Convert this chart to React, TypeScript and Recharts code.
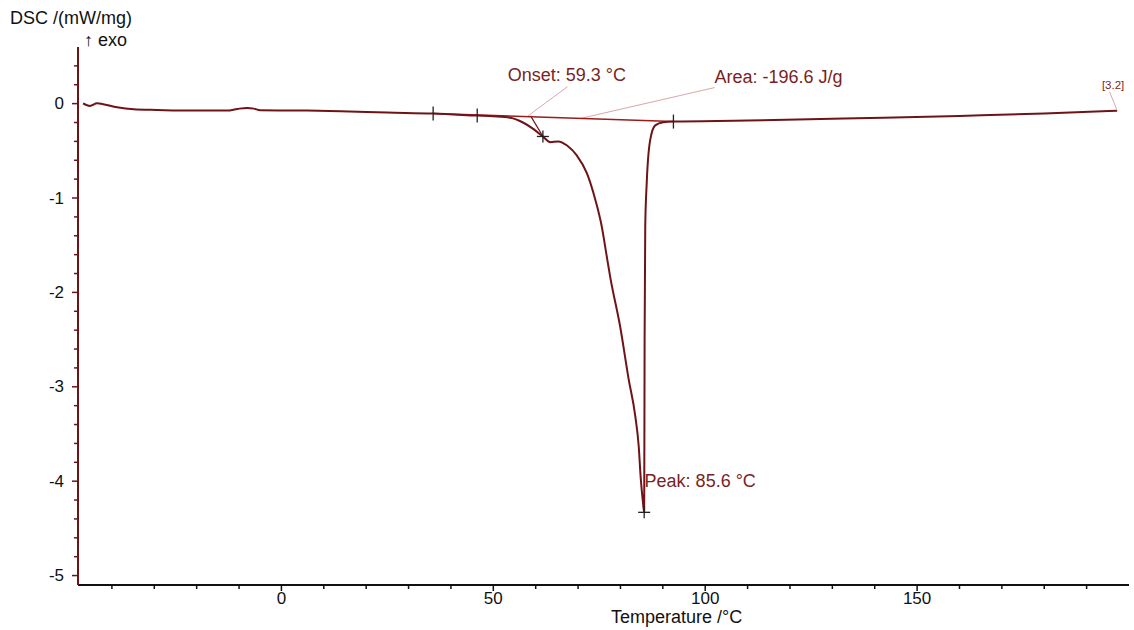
import { ComposedChart, Line, Scatter, XAxis, YAxis, ReferenceLine } from "recharts"

// DSC trace
const temps = [
  -46.8, -45.2, -43.5, -42.3, -38.8, -34.9, -29.3, -21.5, -12.8, -10.4, -8.1, -6.5, -5, 6.1, 13.9, 25,
  35.8, 46.2, 50, 54, 57, 59.5, 61.7, 63.4, 65.3, 67.4, 69.7, 72.1, 74.1, 75.6, 76.7, 77.6, 80.0, 81.9,
  83.5, 84.3, 84.8, 85.3, 85.6, 85.7, 85.85, 86.2, 87.0, 88.2, 90.1, 92.5, 110, 130, 142, 160, 180, 197.2,
]
const dsc = [
  0.003, -0.024, 0.003, -0.003, -0.039, -0.06, -0.067, -0.074, -0.074, -0.056, -0.045, -0.053, -0.07, -0.074,
  -0.08, -0.094, -0.105, -0.127, -0.135, -0.15, -0.2, -0.27, -0.348, -0.408, -0.4, -0.443, -0.549, -0.738,
  -1.023, -1.305, -1.6, -1.84, -2.38, -2.91, -3.31, -3.625, -3.977, -4.22, -4.33, -2.5, -1.3, -0.84,
  -0.39, -0.23, -0.197, -0.19, -0.18, -0.16, -0.15, -0.13, -0.105, -0.075,
]

// integration baseline
const baseT = [35.8, 92.5]
const baseV = [-0.105, -0.19]

// limit ticks on the baseline, crosses at onset/peak
const limitT = [35.8, 46.2, 92.5]
const limitV = [-0.105, -0.127, -0.19]
const crossT = [61.7, 85.6]
const crossV = [-0.348, -4.33]

const xTicks = [-40, -30, -20, -10, 0, 10, 20, 30, 40, 50, 60, 70, 80, 90, 100, 110, 120, 130, 140, 150, 160, 170, 180, 190]
const yTicks = [0.4, 0.2, 0, -0.2, -0.4, -0.6, -0.8, -1, -1.2, -1.4, -1.6, -1.8, -2, -2.2, -2.4, -2.6, -2.8, -3,
  -3.2, -3.4, -3.6, -3.8, -4, -4.2, -4.4, -4.6, -4.8, -5]

// annotation texts and their anchors (left edge, middle)
const noteText = ["Onset: 59.3 °C", "Area: -196.6 J/g", "Peak: 85.6 °C"]
const noteT = [53.4, 102.2, 85.7]
const noteV = [0.3, 0.28, -4.0]

const curve = temps.map((t, i) => ({ t, v: dsc[i] }))
const baseline = baseT.map((t, i) => ({ t, v: baseV[i] }))
const limits = limitT.map((t, i) => ({ t, v: limitV[i] }))
const crosses = crossT.map((t, i) => ({ t, v: crossV[i] }))
const notes = noteT.map((t, i) => ({ t, v: noteV[i], label: noteText[i] }))
const tag = [{ t: 193.6, v: 0.195, label: "[3.2]" }]

const FONT = "'Liberation Sans', Arial, sans-serif"
const RED = "#6e1418"
const TEXT_RED = "#7a1f22"
const LEADER = "#d9a7aa"

const XTick = (props: any) => {
  const { x, y, payload } = props
  const major = payload.value % 50 === 0
  return (
    <g>
      <line x1={x} y1={y} x2={x} y2={y + (major ? 6 : 4)} stroke="#111" strokeWidth={1.5} />
      {major && (
        <text x={x} y={y + 13} textAnchor="middle" dominantBaseline="central" fontFamily={FONT} fontSize={17} fill="#111">
          {payload.value}
        </text>
      )}
    </g>
  )
}

const YTick = (props: any) => {
  const { x, y, payload } = props
  const v = payload.value
  const major = Math.abs(v - Math.round(v)) < 1e-6
  return (
    <g>
      <line x1={x} y1={y} x2={x - (major ? 6 : 4)} y2={y} stroke={RED} strokeWidth={1.5} />
      {major && (
        <text x={x - 14} y={y} textAnchor="end" dominantBaseline="central" fontFamily={FONT} fontSize={17} fill="#111">
          {Math.round(v)}
        </text>
      )}
    </g>
  )
}

const LimitMark = (props: any) => (
  <line x1={props.cx} y1={props.cy - 7} x2={props.cx} y2={props.cy + 7} stroke="#222" strokeWidth={1.3} />
)

const CrossMark = (props: any) => (
  <g stroke="#222" strokeWidth={1.3}>
    <line x1={props.cx - 6} y1={props.cy} x2={props.cx + 6} y2={props.cy} />
    <line x1={props.cx} y1={props.cy - 6} x2={props.cx} y2={props.cy + 6} />
  </g>
)

const NoteText = (props: any) => (
  <text x={props.cx} y={props.cy} dominantBaseline="central" fontFamily={FONT} fontSize={18} fill={TEXT_RED}>
    {props.payload.label}
  </text>
)

const TagText = (props: any) => (
  <text x={props.cx} y={props.cy} dominantBaseline="central" fontFamily={FONT} fontSize={11.5} fill={TEXT_RED}>
    {props.payload.label}
  </text>
)

const titleStyle = { position: "absolute" as const, fontFamily: FONT, fontSize: 18, color: "#111", lineHeight: "20px", whiteSpace: "nowrap" as const }

export default function App() {
  return (
    <div style={{ position: "absolute", left: 0, top: 0, width: 1134, height: 630, background: "#fff" }}>
      <ComposedChart width={1134} height={630} margin={{ top: 47, right: 5, bottom: 0, left: 0 }}>
        <XAxis
          type="number"
          dataKey="t"
          domain={[-48, 200]}
          ticks={xTicks}
          interval={0}
          tickSize={0}
          tickMargin={0}
          height={45}
          stroke="#111"
          strokeWidth={2}
          tick={<XTick />}
          allowDataOverflow
        />
        <YAxis
          type="number"
          dataKey="v"
          domain={[-5.1, 0.6]}
          ticks={yTicks}
          interval={0}
          tickSize={0}
          tickMargin={0}
          width={78}
          stroke={RED}
          strokeWidth={2}
          tick={<YTick />}
          allowDataOverflow
        />
        <ReferenceLine segment={[{ x: 58.2, y: -0.13 }, { x: 67.5, y: 0.18 }]} stroke={LEADER} strokeWidth={1} />
        <ReferenceLine segment={[{ x: 70.5, y: -0.158 }, { x: 102.2, y: 0.17 }]} stroke={LEADER} strokeWidth={1} />
        <ReferenceLine segment={[{ x: 195.4, y: 0.126 }, { x: 197.1, y: -0.06 }]} stroke={LEADER} strokeWidth={1} />
        <ReferenceLine segment={[{ x: 58.8, y: -0.13 }, { x: 62, y: -0.37 }]} stroke={RED} strokeWidth={1.2} />
        <Line data={baseline} dataKey="v" type="linear" stroke="#9b1b1b" strokeWidth={1.5} dot={false} isAnimationActive={false} />
        <Line data={curve} dataKey="v" type="monotone" stroke={RED} strokeWidth={2} dot={false} isAnimationActive={false} />
        <Scatter data={limits} dataKey="v" shape={<LimitMark />} isAnimationActive={false} />
        <Scatter data={crosses} dataKey="v" shape={<CrossMark />} isAnimationActive={false} />
        <Scatter data={notes} dataKey="v" shape={<NoteText />} isAnimationActive={false} />
        <Scatter data={tag} dataKey="v" shape={<TagText />} isAnimationActive={false} />
      </ComposedChart>
      <div style={{ ...titleStyle, left: 10, top: 8 }}>DSC /(mW/mg)</div>
      <div style={{ ...titleStyle, left: 84, top: 30 }}>↑ exo</div>
      <div style={{ ...titleStyle, left: 611, top: 607 }}>Temperature /°C</div>
    </div>
  )
}
